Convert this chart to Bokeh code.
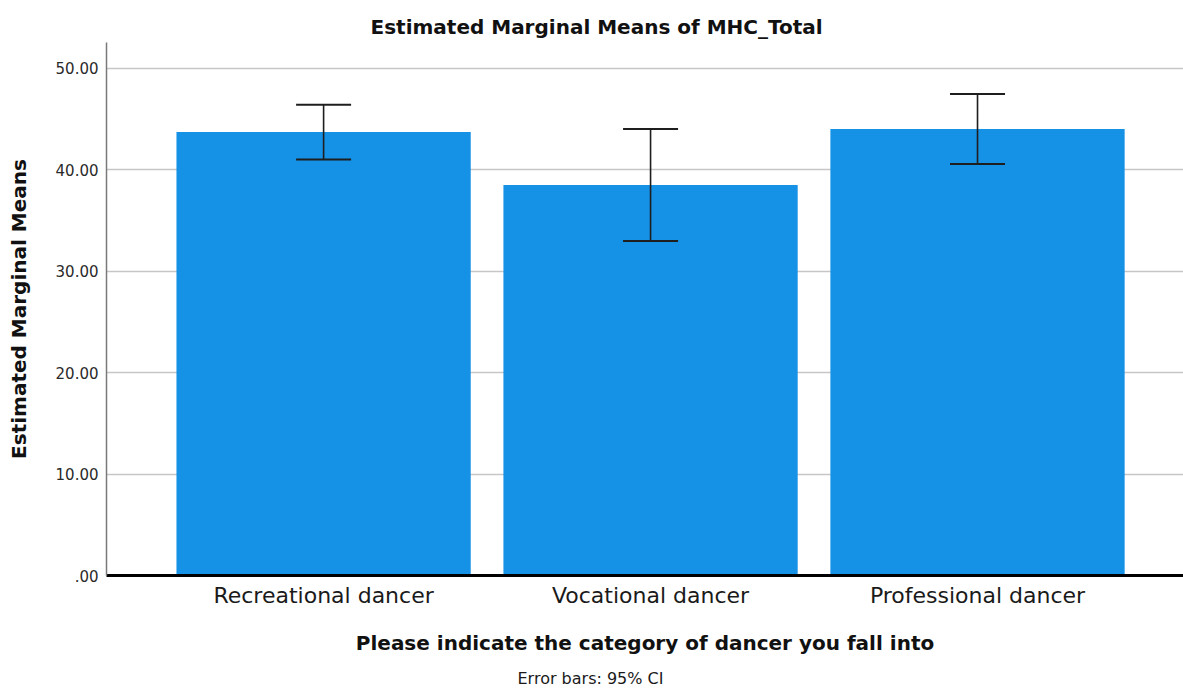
from bokeh.plotting import figure
from bokeh.models import ColumnDataSource, FixedTicker, Range1d, Whisker, TeeHead, Title
from bokeh.embed import file_html
from bokeh.resources import INLINE

# Estimated marginal means of MHC_Total by dancer category, with 95% CIs
categories = ["Recreational dancer", "Vocational dancer", "Professional dancer"]
means = [43.74, 38.50, 44.03]
ci_lower = [41.02, 32.99, 40.59]
ci_upper = [46.43, 44.03, 47.47]
y_ticks = [0, 10, 20, 30, 40, 50]
y_tick_labels = [".00", "10.00", "20.00", "30.00", "40.00", "50.00"]

FONT = "DejaVu Sans"
BAR_COLOR = "#1591e6"
ERR_COLOR = "#1e1e1e"

positions = list(range(len(categories)))
src = ColumnDataSource(dict(x=positions, mean=means, lower=ci_lower, upper=ci_upper))

p = figure(
    width=1183, height=696,
    output_backend="svg", toolbar_location=None,
    x_range=Range1d(-0.664, 2.63), y_range=Range1d(0, 52.56),
    min_border_left=106, min_border_right=0,
    min_border_top=42, min_border_bottom=120,
)
p.background_fill_color = "white"
p.border_fill_color = "white"
p.outline_line_color = None

# title
p.title.text = "Estimated Marginal Means of MHC_Total"
p.title.align = "left"
p.title.offset = 264
p.title.text_font = FONT
p.title.text_font_size = "20px"
p.title.text_font_style = "bold"
p.title.text_color = "#111111"
p.title.standoff = 8

# bars and confidence intervals (whiskers drawn on top of the bars)
p.vbar(x="x", top="mean", width=0.9, source=src,
       fill_color=BAR_COLOR, line_color=None)
p.add_layout(Whisker(
    source=src, base="x", lower="lower", upper="upper",
    level="overlay",
    line_color=ERR_COLOR, line_width=1.6,
    upper_head=TeeHead(size=55, line_color=ERR_COLOR, line_width=2),
    lower_head=TeeHead(size=55, line_color=ERR_COLOR, line_width=2),
))

# x axis
xa = p.xaxis[0]
xa.ticker = FixedTicker(ticks=positions)
xa.major_label_overrides = {i: c for i, c in zip(positions, categories)}
xa.major_label_text_font = FONT
xa.major_label_text_font_size = "22px"
xa.major_label_text_color = "#1a1a1a"
xa.major_label_standoff = 7
xa.major_tick_out = 0
xa.major_tick_in = 0
xa.major_tick_line_color = None
xa.minor_tick_line_color = None
xa.axis_line_color = "black"
xa.axis_line_width = 3
xa.axis_label = "Please indicate the category of dancer you fall into"
xa.axis_label_text_font = FONT
xa.axis_label_text_font_size = "20px"
xa.axis_label_text_font_style = "bold"
xa.axis_label_text_color = "#111111"
xa.axis_label_standoff = 20

# y axis
ya = p.yaxis[0]
ya.ticker = FixedTicker(ticks=y_ticks)
ya.major_label_overrides = {t: s for t, s in zip(y_ticks, y_tick_labels)}
ya.major_label_text_font = FONT
ya.major_label_text_font_size = "15px"
ya.major_label_text_color = "#2a2a2a"
ya.major_label_standoff = 8
ya.major_tick_out = 0
ya.major_tick_in = 0
ya.major_tick_line_color = None
ya.minor_tick_line_color = None
ya.axis_line_color = "#7a7a7a"
ya.axis_line_width = 1.5
ya.axis_label = "Estimated Marginal Means"
ya.axis_label_text_font = FONT
ya.axis_label_text_font_size = "20px"
ya.axis_label_text_font_style = "bold"
ya.axis_label_text_color = "#111111"
ya.axis_label_standoff = 22

p.xgrid.grid_line_color = None
p.ygrid.grid_line_color = "#c6c6c6"
p.ygrid.grid_line_width = 1.5

# footnote
p.add_layout(Title(
    text="Error bars: 95% CI", align="left", offset=411,
    text_font=FONT, text_font_size="16px", text_font_style="normal",
    text_color="#1a1a1a", standoff=18,
), "below")

open("out.html", "w").write(file_html(p, INLINE))
